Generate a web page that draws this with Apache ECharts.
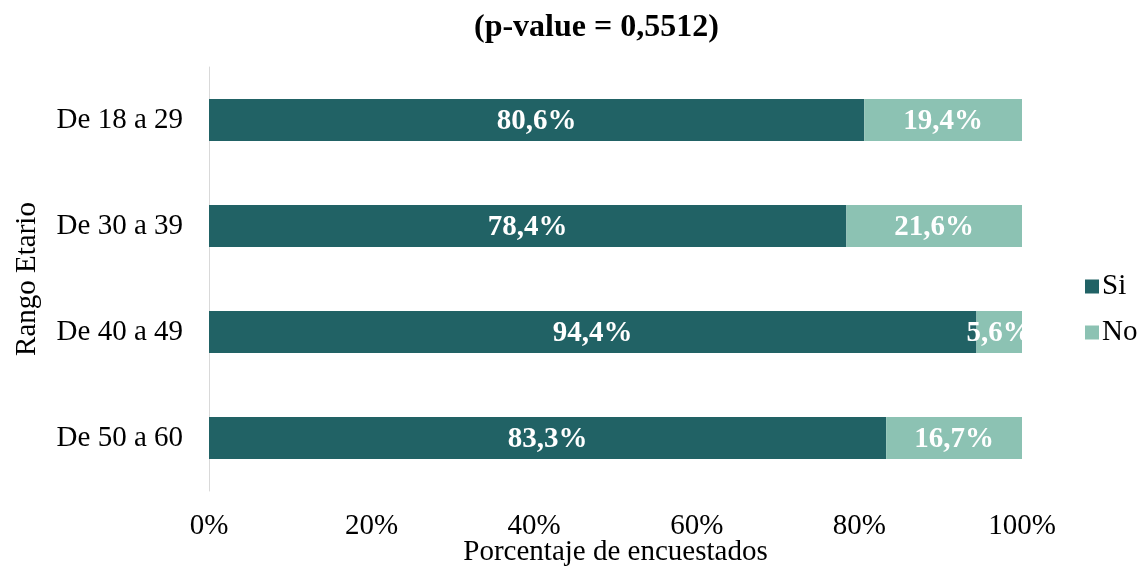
<!DOCTYPE html>
<html><head><meta charset="utf-8">
<script src="https://cdn.jsdelivr.net/npm/echarts@6/dist/echarts.min.js"></script>
<style>html,body{margin:0;padding:0;background:#fff}#c{width:1141px;height:569px}</style>
</head><body><div id="c"></div>
<script>
const categories = ['De 18 a 29', 'De 30 a 39', 'De 40 a 49', 'De 50 a 60'];
const siValues = [80.6, 78.4, 94.4, 83.3];
const noValues = [19.4, 21.6, 5.6, 16.7];
const xTicks = [0, 20, 40, 60, 80, 100];
const titleText = '(p-value = 0,5512)';
const FONT = '"Liberation Serif", "Times New Roman", serif';
const fmt = v => v.toFixed(1).replace('.', ',') + '%';
const chart = echarts.init(document.getElementById('c'));
const lbl = {show: true, position: 'inside', color: '#fff', fontFamily: FONT, fontWeight: 'bold', fontSize: 29,
  offset: [0, 2], formatter: p => fmt(p.value)};
chart.setOption({
  animation: false,
  title: {text: titleText, left: 469, top: 7, textStyle: {fontFamily: FONT, fontWeight: 'bold', fontSize: 32, color: '#000'}},
  legend: {orient: 'vertical', left: 1080, top: 267, itemWidth: 14, itemHeight: 14, itemGap: 17,
    icon: 'rect', textStyle: {fontFamily: FONT, fontSize: 29, color: '#000', padding: [0,0,0,-2]}, data: ['Si', 'No']},
  grid: {left: 209, right: 119, top: 67, bottom: 78, outerBoundsMode: 'none', containLabel: false},
  xAxis: {type: 'value', min: 0, max: 100, interval: 20,
    axisLine: {show: false}, axisTick: {show: false}, splitLine: {show: false},
    axisLabel: {formatter: v => v + '%', fontFamily: FONT, fontSize: 29, color: '#000', margin: 21},
    name: 'Porcentaje de encuestados', nameLocation: 'middle', nameGap: 47, nameMoveOverlap: false,
    nameTextStyle: {fontFamily: FONT, fontSize: 29, color: '#000'}},
  yAxis: {type: 'category', data: categories, inverse: true,
    axisLine: {show: true, lineStyle: {color: '#d9d9d9', width: 1}}, axisTick: {show: false},
    axisLabel: {fontFamily: FONT, fontSize: 29, color: '#000', margin: 26},
    name: 'Rango Etario', nameLocation: 'middle', nameGap: 167, nameRotate: 90, nameMoveOverlap: false,
    nameTextStyle: {fontFamily: FONT, fontSize: 29, color: '#000'}},
  series: [
    {name: 'Si', type: 'bar', stack: 't', data: siValues, barWidth: 42, itemStyle: {color: '#216265'}, label: lbl},
    {name: 'No', type: 'bar', stack: 't', data: noValues, barWidth: 42, itemStyle: {color: '#8cc2b3'}, label: lbl}
  ]
});
</script></body></html>
